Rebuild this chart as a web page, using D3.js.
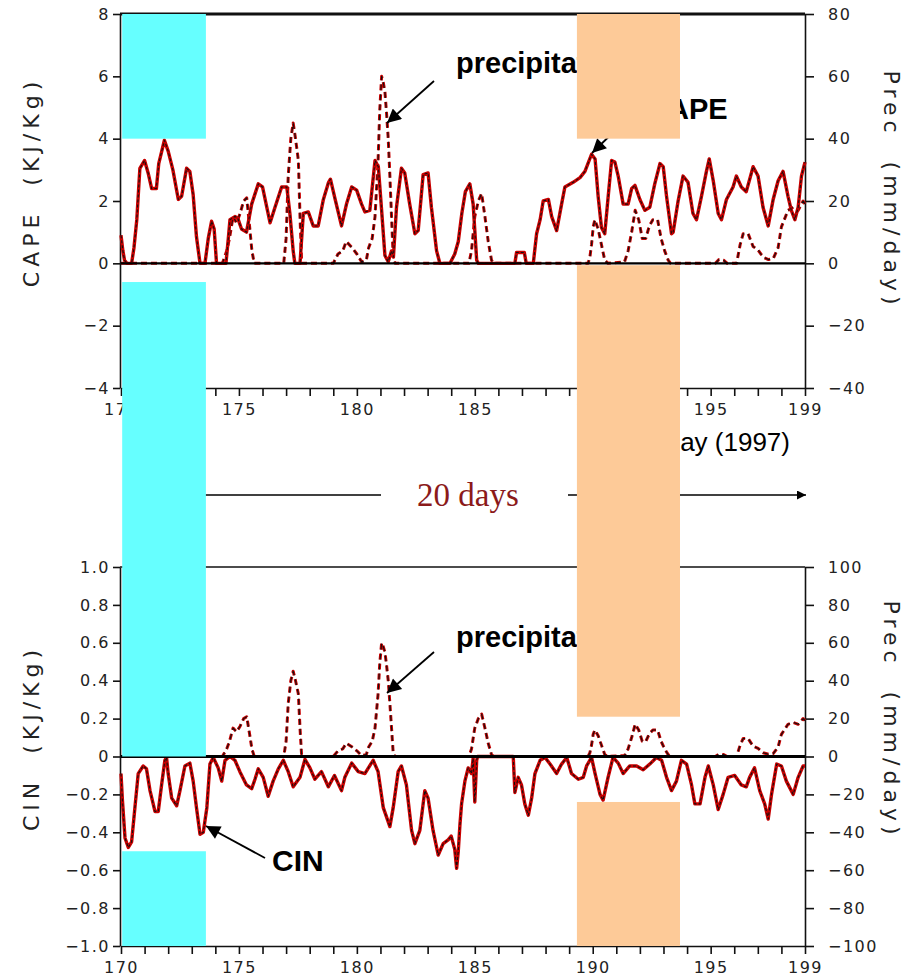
<!DOCTYPE html>
<html><head><meta charset="utf-8">
<script src="https://cdn.jsdelivr.net/npm/d3@7"></script>
<style>
html,body{margin:0;padding:0;background:#fff;}
svg{display:block;}
.tick text{font-family:"DejaVu Sans",sans-serif;font-size:16px;letter-spacing:1.5px;fill:#222;}
.ttl{font-family:"DejaVu Sans",sans-serif;font-size:22px;letter-spacing:5px;fill:#222;white-space:pre;}
.note{font-family:"Liberation Sans",Arial,sans-serif;font-weight:bold;font-size:29px;fill:#000;}
</style></head><body>
<svg id="chart" width="916" height="977"></svg>
<script>
// ---- CAPE (KJ/Kg) ----
const capeDays = [170.0,170.08,170.15,170.25,170.45,170.55,170.67,170.8,171.0,171.15,171.3,171.5,171.6,171.84,172.0,172.2,172.43,172.57,172.78,172.92,173.06,173.2,173.35,173.56,173.7,173.84,173.95,174.05,174.45,174.55,174.62,174.83,174.95,175.11,175.32,175.54,175.82,176.0,176.32,176.53,176.81,177.03,177.16,177.3,177.37,177.59,177.73,177.94,178.15,178.36,178.58,178.8,178.88,179.08,179.35,179.56,179.78,179.99,180.2,180.34,180.55,180.77,180.91,181.05,181.19,181.33,181.47,181.55,181.68,181.89,182.03,182.24,182.46,182.6,182.81,183.02,183.16,183.38,183.52,183.95,184.15,184.3,184.45,184.6,184.79,184.93,185.08,185.15,186.7,186.77,187.1,187.18,187.48,187.62,187.77,187.9,188.12,188.26,188.47,188.68,188.82,189.17,189.46,189.67,189.95,190.1,190.23,190.37,190.51,190.65,190.8,190.94,191.08,191.29,191.5,191.65,191.79,192.0,192.21,192.42,192.63,192.85,192.99,193.13,193.34,193.41,193.62,193.83,194.04,194.25,194.4,194.61,194.82,194.94,195.11,195.32,195.46,195.67,195.95,196.09,196.3,196.51,196.8,197.01,197.22,197.44,197.65,197.86,198.07,198.28,198.42,198.57,198.71,198.85,199.0];
const capeValues = [0.9,0.4,0.1,0,0,0.5,1.4,3.05,3.3,2.9,2.4,2.4,3.2,3.95,3.6,3.0,2.05,2.15,3.05,2.95,2.2,0.85,0,0,0.8,1.35,1.1,0,0,0.8,1.4,1.5,1.45,1.1,1.0,1.9,2.55,2.45,1.3,1.8,2.45,2.45,1.6,0.4,0,0,1.6,1.65,1.2,1.2,2.05,2.6,2.7,2.05,1.2,1.9,2.45,2.35,1.9,1.65,1.7,3.3,3.1,1.7,0.25,0.05,0.4,0.2,1.8,3.05,2.9,1.9,0.95,1.05,2.85,2.9,1.8,0.4,0,0,0.3,0.7,1.6,2.3,2.55,1.9,0.1,0,0,0.35,0.35,0,0,0.95,1.4,2.0,2.05,1.5,1.05,1.9,2.45,2.6,2.75,2.95,3.5,3.35,2.15,1.15,0.95,2.1,3.3,3.25,2.8,1.9,1.9,2.4,2.5,2.05,1.7,1.8,2.55,3.2,3.1,2.15,0.95,1.0,2.0,2.8,2.6,1.6,1.4,2.15,2.95,3.35,2.65,1.6,1.4,2.05,2.45,2.8,2.45,2.3,3.1,2.8,1.8,1.2,2.05,2.65,2.95,2.15,1.7,1.4,1.8,2.8,3.25];

// ---- CIN (KJ/Kg) ----
const cinDays = [170.0,170.06,170.17,170.31,170.45,170.59,170.73,170.94,171.08,171.23,171.44,171.58,171.72,171.86,171.93,172.0,172.15,172.36,172.5,172.71,172.92,173.06,173.2,173.35,173.49,173.64,173.77,173.91,174.12,174.27,174.41,174.62,174.83,175.04,175.32,175.54,175.68,175.82,176.03,176.24,176.45,176.67,176.88,177.09,177.3,177.59,177.8,178.01,178.22,178.5,178.79,179.05,179.35,179.49,179.78,180.06,180.34,180.69,180.9,181.12,181.4,181.54,181.75,181.89,182.1,182.32,182.46,182.67,182.88,183.02,183.23,183.45,183.66,183.87,184.0,184.15,184.23,184.3,184.37,184.44,184.58,184.72,184.86,184.93,185.0,185.08,185.12,186.63,186.7,186.84,186.98,187.12,187.27,187.41,187.55,187.77,187.98,188.19,188.47,188.68,188.9,189.1,189.39,189.6,189.74,189.95,190.1,190.31,190.44,190.65,190.86,191.08,191.29,191.57,191.86,192.14,192.42,192.7,192.92,193.13,193.34,193.55,193.76,193.98,194.19,194.33,194.55,194.76,194.9,195.11,195.32,195.53,195.74,196.02,196.3,196.51,196.65,196.86,197.08,197.29,197.44,197.58,197.8,198.0,198.21,198.5,198.71,198.92,199.0];
const cinValues = [-0.09,-0.23,-0.43,-0.48,-0.45,-0.27,-0.09,-0.05,-0.065,-0.18,-0.29,-0.29,-0.15,-0.02,-0.005,-0.09,-0.22,-0.26,-0.18,-0.05,-0.035,-0.13,-0.27,-0.41,-0.40,-0.27,-0.04,-0.005,-0.06,-0.13,-0.02,0,-0.02,-0.08,-0.15,-0.17,-0.12,-0.065,-0.11,-0.21,-0.13,-0.065,-0.02,-0.08,-0.16,-0.11,-0.015,-0.06,-0.12,-0.08,-0.16,-0.1,-0.18,-0.11,-0.035,-0.08,-0.09,-0.02,-0.08,-0.27,-0.37,-0.27,-0.08,-0.05,-0.15,-0.39,-0.46,-0.39,-0.18,-0.22,-0.39,-0.52,-0.46,-0.44,-0.42,-0.49,-0.59,-0.5,-0.36,-0.25,-0.13,-0.06,-0.09,-0.01,-0.24,-0.02,0,0,-0.19,-0.11,-0.15,-0.25,-0.31,-0.22,-0.09,-0.02,-0.005,-0.04,-0.09,-0.04,-0.005,-0.09,-0.12,-0.11,-0.05,-0.005,-0.09,-0.2,-0.23,-0.11,-0.005,-0.035,-0.09,-0.05,-0.05,-0.07,-0.04,-0.005,-0.02,-0.11,-0.18,-0.13,-0.02,-0.04,-0.15,-0.25,-0.25,-0.11,-0.05,-0.15,-0.28,-0.2,-0.11,-0.1,-0.15,-0.16,-0.11,-0.06,-0.18,-0.25,-0.33,-0.2,-0.04,-0.05,-0.13,-0.2,-0.11,-0.05,-0.05];

// ---- Precipitation (mm/day), shown in both panels ----
const precDays = [170.0,174.3,174.48,174.6,174.75,174.9,175.05,175.2,175.33,175.45,175.55,175.65,176.9,177.0,177.09,177.2,177.3,177.4,177.52,177.59,177.66,179.0,179.2,179.4,179.55,179.8,180.0,180.2,180.4,180.5,180.65,180.77,180.9,180.97,181.05,181.12,181.19,181.26,181.33,181.4,181.47,181.54,181.62,184.75,184.86,185.0,185.15,185.29,185.43,185.57,185.71,185.8,189.8,189.88,189.95,190.02,190.09,190.23,190.37,190.51,190.65,191.35,191.5,191.65,191.8,191.95,192.1,192.25,192.4,192.55,192.75,192.9,193.05,193.2,193.3,195.2,195.35,195.55,195.7,196.1,196.25,196.38,196.59,196.8,197.01,197.22,197.45,197.65,197.86,198.0,198.28,198.5,198.71,198.92,199.0];
const precValues = [0,0,4,8,15,13,16,20,21,12,4,0,0,8,28,40,45,40,33,15,0,0,3,4,7,5,3,0.5,1,5,8,15,33,49,60,58,55,48,40,28,15,2,0,0,4,15,20,22.4,15,7,1,0,0,2,6,11.7,14,11,6,1,0,0.5,4,10,17,14,8,8,12,14,14,8,4,1,0,0,1.2,1,0,0,6,9.5,9.5,5.4,4.3,2,1.2,1.5,5,11.7,17,18,17,20,19];

// ---- Axis ticks ----
const dayTicks = d3.range(170, 200);
const dayLabels = [170, 175, 180, 185, 190, 195, 199];
const capeTicks = [-4, -2, 0, 2, 4, 6, 8];
const precTopTicks = [-40, -20, 0, 20, 40, 60, 80];
const cinTicks = [-1.0, -0.8, -0.6, -0.4, -0.2, 0, 0.2, 0.4, 0.6, 0.8, 1.0];
const precBotTicks = [-100, -80, -60, -40, -20, 0, 20, 40, 60, 80, 100];

// ---- Highlight bands: [day0, day1] ----
const cyanDays = [170.05, 173.6];
const orangeDays = [189.33, 193.7];

const svg = d3.select("#chart");
const x = d3.scaleLinear().domain([170, 199]).range([121, 805]);

const yCape = d3.scaleLinear().domain([-4, 8]).range([388, 14]);
const yPrecTop = d3.scaleLinear().domain([-40, 80]).range([388, 14]);
const yCin = d3.scaleLinear().domain([-1, 1]).range([946, 567]);
const yPrecBot = d3.scaleLinear().domain([-100, 100]).range([946, 567]);

const fmtCin = d => d === 0 ? "0" : d3.format(".1f")(d).replace("-", "\u2212");
const fmtInt = d => d3.format("d")(d);

function drawAxes(yL, yR, lTicks, rTicks, lFmt, rFmt, topWidth) {
  const [y0, y1] = yL.range();
  const g = svg.append("g");
  // bottom day axis
  g.append("g").attr("transform", `translate(0,${y0})`)
    .call(d3.axisBottom(x).tickValues(dayTicks).tickSize(8).tickPadding(8).tickSizeOuter(0)
      .tickFormat(d => dayLabels.includes(d) ? d : ""));
  g.append("g").attr("transform", `translate(${x.range()[0] - 1},0)`)
    .call(d3.axisLeft(yL).tickValues(lTicks).tickSize(7).tickPadding(3).tickSizeOuter(0).tickFormat(lFmt));
  g.append("g").attr("transform", `translate(${x.range()[1]},0)`)
    .call(d3.axisRight(yR).tickValues(rTicks).tickSize(9).tickPadding(14).tickSizeOuter(0).tickFormat(rFmt));
  g.selectAll(".domain, .tick line").attr("stroke", "#111").attr("stroke-width", 1.6);
  g.selectAll(".tick text").attr("fill", "#222");
  // top frame line
  g.append("line").attr("x1", x.range()[0] - 1).attr("x2", x.range()[1])
    .attr("y1", y1).attr("y2", y1).attr("stroke", "#111").attr("stroke-width", topWidth);
}

function drawSeries(days, vals, y, dashed) {
  const pts = d3.zip(days, vals);
  const line = d3.line().x(d => x(d[0])).y(d => y(d[1]));
  const g = svg.append("g").attr("fill", "none").attr("stroke-linejoin", "round");
  g.append("path").attr("d", line(pts)).attr("stroke", "#c80000")
    .attr("stroke-width", dashed ? 3 : 3.4).attr("stroke-dasharray", dashed ? "6,4" : null);
  g.append("path").attr("d", line(pts)).attr("stroke", "#111")
    .attr("stroke-width", 1.1).attr("stroke-dasharray", dashed ? "6,4" : "3,2");
}

function zeroLine(y, w) {
  svg.append("line").attr("x1", x.range()[0]).attr("x2", x.range()[1])
    .attr("y1", y(0)).attr("y2", y(0)).attr("stroke", "#000").attr("stroke-width", w);
}

// arrow markers
const defs = svg.append("defs");
defs.append("marker").attr("id", "head")
  .attr("viewBox", "0 0 10 10").attr("refX", 10).attr("refY", 5)
  .attr("markerWidth", 9).attr("markerHeight", 9).attr("markerUnits", "userSpaceOnUse")
  .attr("orient", "auto")
  .append("path").attr("d", "M0,0 L10,5 L0,10 z").attr("fill", "#000");
defs.append("marker").attr("id", "bighead")
  .attr("viewBox", "0 0 10 10").attr("refX", 10).attr("refY", 5)
  .attr("markerWidth", 16).attr("markerHeight", 14).attr("markerUnits", "userSpaceOnUse")
  .attr("orient", "auto")
  .append("path").attr("d", "M0,0 L10,5 L0,10 z").attr("fill", "#000");

function arrow(x1, y1, x2, y2, head, w) {
  svg.append("line").attr("x1", x1).attr("y1", y1).attr("x2", x2).attr("y2", y2)
    .attr("stroke", "#000").attr("stroke-width", w).attr("marker-end", `url(#${head})`);
}

// ---------- top panel: CAPE + precipitation ----------
drawAxes(yCape, yPrecTop, capeTicks, precTopTicks, fmtInt, fmtInt, 3);
drawSeries(precDays, precValues, yPrecTop, true);
drawSeries(capeDays, capeValues, yCape, false);
zeroLine(yCape, 2.4);

// ---------- bottom panel: CIN + precipitation ----------
drawAxes(yCin, yPrecBot, cinTicks, precBotTicks, fmtCin, fmtInt, 1.6);
drawSeries(precDays, precValues, yPrecBot, true);
drawSeries(cinDays, cinValues, yCin, false);
zeroLine(yCin, 3);

// axis titles
svg.append("text").attr("class", "ttl").attr("text-anchor", "middle").attr("dominant-baseline", "central")
  .attr("transform", "translate(31,182) rotate(-90)").text("CAPE  (KJ/Kg)");
svg.append("text").attr("class", "ttl").attr("text-anchor", "middle").attr("dominant-baseline", "central")
  .attr("transform", "translate(31,738) rotate(-90)").text("CIN  (KJ/Kg)");
svg.append("text").attr("class", "ttl").attr("text-anchor", "middle").attr("dominant-baseline", "central")
  .attr("transform", "translate(891,190) rotate(90)").text("Prec  (mm/day)");
svg.append("text").attr("class", "ttl").attr("text-anchor", "middle").attr("dominant-baseline", "central")
  .attr("transform", "translate(891,720) rotate(90)").text("Prec  (mm/day)");
svg.append("text").attr("x", 790).attr("y", 451).attr("text-anchor", "end")
  .attr("font-family", "Liberation Sans, Arial, sans-serif").attr("font-size", 26).text("Day (1997)");

// annotations
svg.append("text").attr("class", "note").attr("x", 456).attr("y", 73).text("precipitation");
arrow(434, 81, 387, 123, "bighead", 1.8);
svg.append("text").attr("class", "note").attr("x", 647).attr("y", 119).text("CAPE");
arrow(628, 118, 592, 153, "bighead", 1.8);
svg.append("text").attr("class", "note").attr("x", 456).attr("y", 647).text("precipitation");
arrow(434, 652, 387, 693, "bighead", 1.8);
svg.append("text").attr("class", "note").attr("x", 272).attr("y", 871).style("font-size", "30px").text("CIN");
arrow(265, 858, 206, 826, "bighead", 1.8);

// 20-day span arrow
svg.append("line").attr("x1", 150).attr("x2", 381).attr("y1", 495).attr("y2", 495)
  .attr("stroke", "#000").attr("stroke-width", 1.3);
arrow(568, 495, 806, 495, "head", 1.3);
svg.append("text").attr("x", 417).attr("y", 506).attr("font-family", "Liberation Serif, Times New Roman, serif")
  .attr("font-size", 33).attr("fill", "#8B1A1A").text("20 days");

// highlight bands (drawn last, on top)
const bands = [
  {days: cyanDays, color: "#66FFFF", y0: yCape(8), y1: yCape(4)},
  {days: cyanDays, color: "#66FFFF", y0: yCape(-0.6), y1: yCin(0)},
  {days: cyanDays, color: "#66FFFF", y0: yCin(-0.5), y1: yCin(-1)},
  {days: orangeDays, color: "#FDCA98", y0: yCape(8), y1: yCape(4)},
  {days: orangeDays, color: "#FDCA98", y0: yCape(-0.06), y1: yCin(0.21)},
  {days: orangeDays, color: "#FDCA98", y0: yCin(-0.24), y1: yCin(-1)}
];
svg.append("g").selectAll("rect").data(bands).join("rect")
  .attr("x", d => x(d.days[0])).attr("width", d => x(d.days[1]) - x(d.days[0]))
  .attr("y", d => d.y0).attr("height", d => d.y1 - d.y0).attr("fill", d => d.color);
</script>
</body></html>
